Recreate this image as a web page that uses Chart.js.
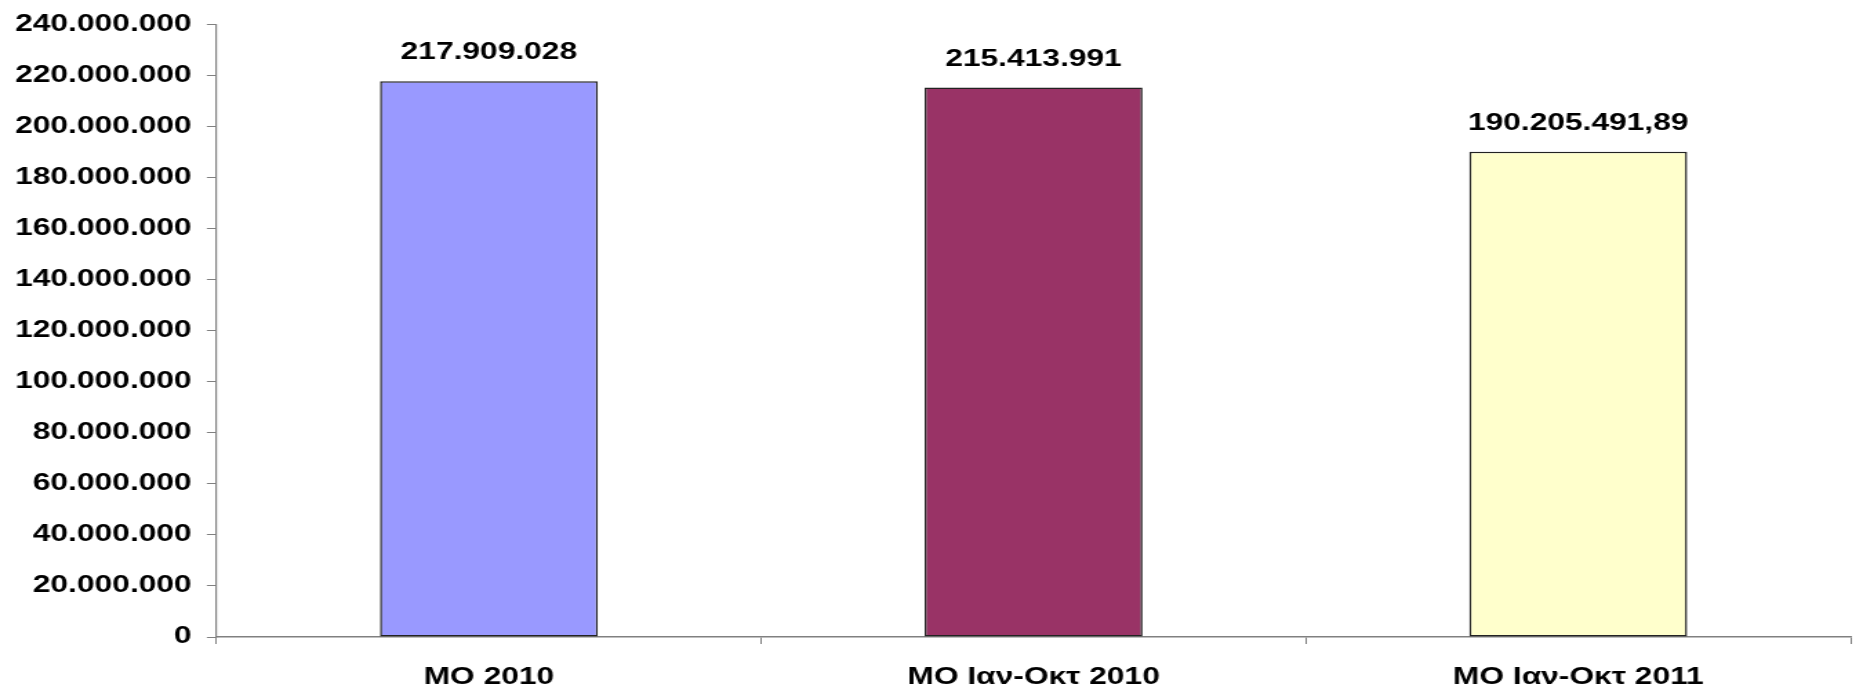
<!DOCTYPE html>
<html>
<head>
<meta charset="utf-8">
<script src="https://cdn.jsdelivr.net/npm/chart.js@4"></script>
<style>
  html, body { margin: 0; padding: 0; background: #fff; overflow: hidden; }
  /* the original picture is stretched sideways, so we draw narrow and stretch */
  #wrap { width: 1343px; height: 691px; transform: scaleX(1.38); transform-origin: 0 0; }
</style>
</head>
<body>
<div id="wrap"><canvas id="chart"></canvas></div>
<script>
const categories = ['MO 2010', 'MO Ιαν-Οκτ 2010', 'MO Ιαν-Οκτ 2011'];
const values = [217909028, 215413991, 190205491.89];
const barColors = ['#9999FF', '#993366', '#FFFFCC'];
const yMax = 240000000;
const yStep = 20000000;

/* 1234567.8 -> "1.234.567,8" */
function fmt(v) {
    const parts = String(Math.round(v * 100) / 100).split('.');
    const intPart = parts[0].replace(/\B(?=(\d{3})+(?!\d))/g, '.');
    return parts[1] ? intPart + ',' + parts[1] : intPart;
}

const FONT = { family: '"Liberation Sans", Arial, sans-serif', size: 23, weight: 'bold' };

/* value labels above each bar */
const valueLabels = {
    id: 'valueLabels',
    afterDatasetsDraw(chart) {
        const ctx = chart.ctx;
        const meta = chart.getDatasetMeta(0);
        ctx.save();
        ctx.font = 'bold 23px "Liberation Sans", Arial, sans-serif';
        ctx.fillStyle = '#000';
        ctx.textAlign = 'center';
        ctx.textBaseline = 'middle';
        meta.data.forEach((bar, i) => {
            ctx.fillText(fmt(values[i]), bar.x, bar.y - 28);
        });
        ctx.restore();
    }
};

new Chart(document.getElementById('chart').getContext('2d'), {
    type: 'bar',
    data: {
        labels: categories,
        datasets: [{
            data: values,
            backgroundColor: barColors,
            borderColor: '#222',
            borderWidth: 1.5,
            borderSkipped: false,
            categoryPercentage: 0.4,
            barPercentage: 1.0
        }]
    },
    options: {
        animation: false,
        responsive: true,
        maintainAspectRatio: false,
        layout: { padding: { top: 3, right: 2, left: 0, bottom: 0 } },
        plugins: { legend: { display: false }, tooltip: { enabled: false } },
        scales: {
            x: {
                afterFit: (scale) => { scale.height = 54; },
                grid: { drawOnChartArea: false, drawTicks: true, tickLength: 7, color: '#808080', offset: true },
                border: { display: true, color: '#808080', width: 1.5 },
                ticks: { color: '#000', font: FONT, padding: 20, maxRotation: 0 }
            },
            y: {
                min: 0,
                max: yMax,
                grid: { drawOnChartArea: false, drawTicks: true, tickLength: 7, color: '#808080' },
                border: { display: true, color: '#808080', width: 1.2 },
                ticks: { stepSize: yStep, color: '#000', font: FONT, padding: 11, callback: v => fmt(v) }
            }
        }
    },
    plugins: [valueLabels]
});
</script>
</body>
</html>
